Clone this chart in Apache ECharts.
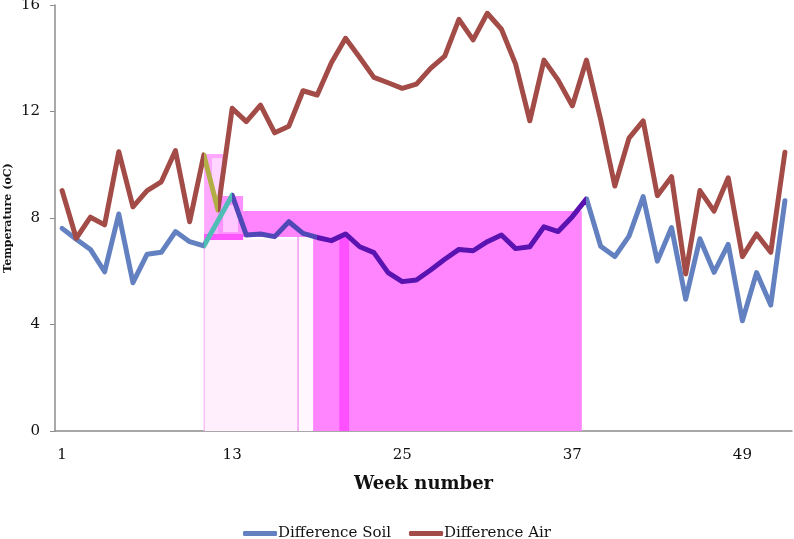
<!DOCTYPE html>
<html><head><meta charset="utf-8">
<script src="https://cdn.jsdelivr.net/npm/echarts@6/dist/echarts.min.js"></script>
<style>html,body{margin:0;padding:0;background:#fff}#c{width:794px;height:539px}</style>
</head><body><div id="c"></div>
<script>
const weeks = Array.from({length: 52}, (_, i) => String(i + 1));
const soil = [7.61,7.2,6.82,5.98,8.15,5.57,6.64,6.71,7.49,7.11,
  6.95,7.9,8.86,7.36,7.4,7.3,7.86,7.42,7.27,7.15,
  7.4,6.92,6.7,5.95,5.61,5.67,6.05,6.45,6.82,6.77,
  7.11,7.36,6.85,6.92,7.67,7.49,8.05,8.72,6.94,6.55,
  7.32,8.8,6.38,7.64,4.95,7.22,5.96,7.01,4.14,5.95,
  4.73,8.65];
const air = [9.03,7.24,8.03,7.74,10.49,8.42,9.03,9.36,10.53,7.86,
  10.37,8.3,12.12,11.62,12.24,11.2,11.45,12.78,12.62,13.83,
  14.75,14.03,13.28,13.08,12.87,13.03,13.62,14.08,15.46,14.69,
  15.69,15.09,13.78,11.65,13.93,13.18,12.21,13.93,11.7,9.2,
  11.0,11.65,8.84,9.55,5.9,9.03,8.26,9.51,6.55,7.4,
  6.71,10.47];
const yTicks = [0, 4, 8, 12, 16];
// highlight boxes: [fromWeekBoundary, toWeekBoundary, fromValue, toValue]
const boxes = [
  [10.52, 17.15, 0, 7.2],
  [17.15, 18.21, 0, 7.29],
  [10.49, 10.56, 0, 7.2],
  [17.11, 17.19, 0, 7.29],
  [13.2, 37.17, 7.29, 8.26],
  [18.21, 37.17, 0, 7.29],
  [20.06, 20.75, 0, 7.35],
  [10.52, 11.86, 7.17, 10.4],
  [11.08, 11.79, 8.86, 10.25],
  [11.5, 13.27, 7.17, 8.83],
  [11.86, 12.91, 7.47, 8.49],
  [10.52, 13.27, 7.17, 7.4]
];
const boxColors = ['#FFEFFD','#FFF6FE','#F4A8F4','#F080F0','#FF85FF','#FF85FF','#FF50FF',
  '#FFA8FF','#FFD6FF','#FF90FF','#FFC8FF','#FF55FF'];
const blue = '#6381C0', red = '#A24B47';
const serif = 'DejaVu Serif';

const chart = echarts.init(document.getElementById('c'));
chart.setOption({
  animation: false,
  grid: {left: 55, right: 2, top: 5, bottom: 108, containLabel: false, outerBoundsMode: 'none'},
  xAxis: [{
    type: 'category', data: weeks, boundaryGap: true,
    axisLine: {lineStyle: {color: '#8c8c8c', width: 1.5}},
    axisTick: {inside: true, length: 5, interval: 5, lineStyle: {color: '#8c8c8c'}},
    axisLabel: {interval: 11, fontFamily: serif, fontSize: 15, color: '#111', margin: 17},
    name: 'Week number', nameLocation: 'middle', nameGap: 44, nameMoveOverlap: false,
    nameTextStyle: {fontFamily: serif, fontWeight: 'bold', fontSize: 18, color: '#111'}
  }, {
    type: 'value', min: 0, max: 52, show: false
  }],
  yAxis: {
    type: 'value', min: yTicks[0], max: yTicks[yTicks.length - 1], interval: 4,
    splitLine: {show: false},
    axisLine: {show: true, lineStyle: {color: '#8c8c8c', width: 1.5}},
    axisTick: {show: true, length: 5, lineStyle: {color: '#8c8c8c'}},
    axisLabel: {fontFamily: serif, fontSize: 15, color: '#111', margin: 15},
    name: 'Temperature (oC)', nameLocation: 'middle', nameGap: 41, nameRotate: 90, nameMoveOverlap: false,
    nameTextStyle: {fontFamily: serif, fontWeight: 'bold', fontSize: 11, color: '#111'}
  },
  legend: {
    top: 526, left: 'center', itemGap: 18, icon: 'roundRect', itemWidth: 34, itemHeight: 5,
    padding: 0,
    textStyle: {fontFamily: serif, fontSize: 15, color: '#111', padding: [0, 0, 0, -4]},
    data: [{name: 'Difference Soil', itemStyle: {color: blue}}, {name: 'Difference Air', itemStyle: {color: red}}]
  },
  visualMap: [{
    type: 'piecewise', show: false, seriesIndex: 1, dimension: 0,
    pieces: [
      {lt: 10, color: blue},
      {gte: 10, lt: 12, color: '#4FBDB6'},
      {gte: 12, lt: 18.2, color: '#5048B6'},
      {gte: 18.2, lt: 36.6, color: '#5A12B0'},
      {gte: 36.6, color: blue}
    ]
  }, {
    type: 'piecewise', show: false, seriesIndex: 2, dimension: 0,
    pieces: [
      {lt: 10, color: red},
      {gte: 10, lt: 10.8, color: '#B0AE45'},
      {gte: 10.8, color: red}
    ]
  }],
  series: [{
    type: 'custom', xAxisIndex: 1, yAxisIndex: 0, z: 1, silent: true,
    data: boxes,
    encode: {x: [0, 1], y: [2, 3]},
    renderItem: function (params, api) {
      const p0 = api.coord([api.value(0), api.value(3)]);
      const p1 = api.coord([api.value(1), api.value(2)]);
      return {type: 'rect', shape: {x: p0[0], y: p0[1], width: p1[0] - p0[0], height: p1[1] - p0[1]},
        style: {fill: boxColors[params.dataIndex]}};
    }
  }, {
    name: 'Difference Soil', type: 'line', data: soil, symbol: 'none', z: 3,
    itemStyle: {color: blue},
    lineStyle: {width: 5, cap: 'round', join: 'round'}
  }, {
    name: 'Difference Air', type: 'line', data: air, symbol: 'none', z: 3,
    itemStyle: {color: red},
    lineStyle: {width: 5, cap: 'round', join: 'round'}
  }]
});
</script></body></html>
